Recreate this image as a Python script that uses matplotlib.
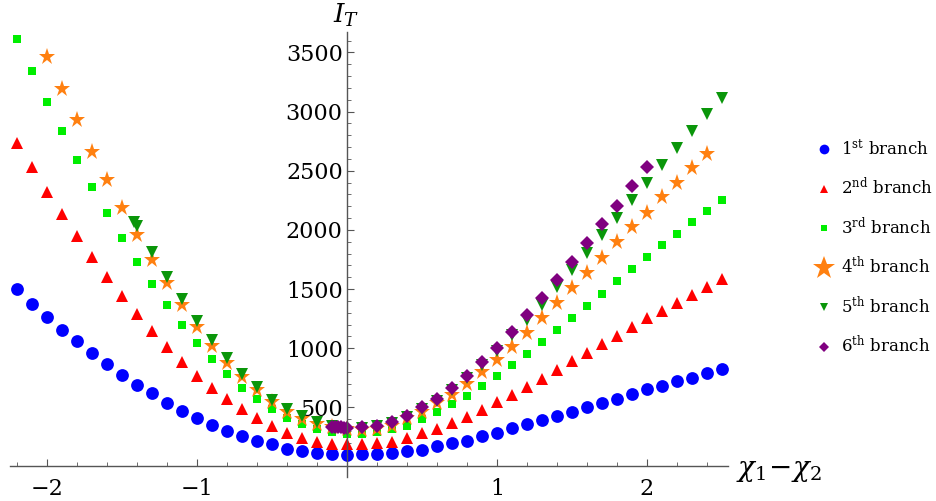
import numpy as np
import matplotlib.pyplot as plt
from matplotlib.lines import Line2D

plt.rcParams['font.family'] = 'DejaVu Serif'
plt.rcParams['mathtext.fontset'] = 'dejavuserif'

# sample grid of chi1 - chi2
x_full = np.round(np.arange(-22, 26) / 10, 1)       # -2.2 ... 2.5
x_star = np.round(np.arange(-20, 25) / 10, 1)       # -2.0 ... 2.4

b1 = [1498, 1374, 1266, 1154, 1058, 962, 866, 776, 689, 619, 539, 472, 413, 351, 300, 261,
      218, 187, 151, 131, 117, 103, 100, 103, 105, 117, 131, 142, 171, 196, 218, 256, 286,
      325, 357, 390, 430, 463, 500, 539, 573, 615, 652, 683, 720, 751, 790, 821]
b2 = [2737, 2534, 2323, 2132, 1948, 1771, 1599, 1441, 1289, 1148, 1008, 883, 765, 664, 568,
      483, 407, 342, 286, 242, 210, 193, 190, 188, 196, 210, 241, 281, 317, 365, 418, 478,
      545, 604, 669, 742, 816, 892, 962, 1033, 1103, 1179, 1252, 1315, 1379, 1447, 1515, 1582]
b3 = [3611, 3343, 3081, 2836, 2591, 2365, 2146, 1929, 1728, 1543, 1365, 1196, 1041, 909, 782,
      666, 571, 485, 407, 359, 315, 289, 275, 272, 289, 317, 342, 401, 458, 527, 596, 680,
      765, 858, 951, 1050, 1154, 1255, 1357, 1460, 1568, 1670, 1771, 1872, 1965, 2067, 2160, 2253]
b4 = [3464, 3188, 2929, 2661, 2422, 2183, 1957, 1743, 1549, 1365, 1182, 1019, 877, 754, 644,
      544, 460, 400, 355, 330, 315, 305, 318, 342, 407, 463, 534, 604, 700, 801, 903, 1013,
      1131, 1253, 1379, 1506, 1633, 1760, 1895, 2022, 2146, 2276, 2399, 2521, 2639]

x5 = [-1.42, -1.4, -1.3, -1.2, -1.1, -1.0, -0.9, -0.8, -0.7, -0.6, -0.5, -0.4, -0.3, -0.2, -0.1,
      0.1, 0.2, 0.3, 0.4, 0.5, 0.6, 0.7, 0.8, 0.9, 1.0, 1.1, 1.2, 1.3, 1.4, 1.5, 1.6, 1.7, 1.8,
      1.9, 2.0, 2.1, 2.2, 2.3, 2.4, 2.5]
b5 = [2069, 2033, 1816, 1599, 1413, 1233, 1069, 915, 782, 668, 565, 483, 427, 379, 345,
      325, 338, 370, 420, 485, 555, 650, 745, 858, 979, 1111, 1238, 1365, 1515, 1661, 1807,
      1957, 2098, 2253, 2394, 2549, 2690, 2836, 2980, 3112]

x6 = [-0.1, -0.08, -0.06, -0.04, -0.02, 0.0, 0.1, 0.2, 0.3, 0.4, 0.5, 0.6, 0.7, 0.8, 0.9,
      1.0, 1.1, 1.2, 1.3, 1.4, 1.5, 1.6, 1.7, 1.8, 1.9, 2.0]
b6 = [336, 334, 332, 330, 329, 328, 331, 345, 380, 430, 500, 573, 666, 768, 886,
      1004, 1139, 1278, 1427, 1577, 1731, 1887, 2047, 2205, 2374, 2534]

labels = [r'1$^{\rm st}$ branch', r'2$^{\rm nd}$ branch', r'3$^{\rm rd}$ branch',
          r'4$^{\rm th}$ branch', r'5$^{\rm th}$ branch', r'6$^{\rm th}$ branch']
colors = ['#0000ff', '#ff0000', '#00ee00', '#ff8010', '#0a960a', '#800080']

fig = plt.figure(figsize=(9.37, 5.01), dpi=100)
ax = fig.add_axes([10 / 937, 24 / 501, 718 / 937, 445 / 501])

ax.plot(x_full, b1, 'o', color=colors[0], ms=9.2, mew=0)
ax.plot(x_full, b2, '^', color=colors[1], ms=8, mew=0)
ax.plot(x_full, b3, 's', color=colors[2], ms=6, mew=0)
ax.plot(x_star, b4, '*', color=colors[3], ms=12.5, mew=0)
ax.plot(x5, b5, 'v', color=colors[4], ms=8, mew=0)
ax.plot(x6, b6, 'D', color=colors[5], ms=6.8, mew=0)

ax.set_xlim(-2.245, 2.54)
ax.set_ylim(-89, 3673)

# axes through the origin, Mathematica style
for s in ['top', 'right']:
    ax.spines[s].set_visible(False)
ax.spines['left'].set_position(('data', 0))
ax.spines['bottom'].set_position(('data', 0))
for s in ['left', 'bottom']:
    ax.spines[s].set_color('#555555')
    ax.spines[s].set_linewidth(1.0)

ax.set_xticks([-2, -1, 1, 2])
ax.set_xticklabels(['\u22122', '\u22121', '1', '2'])
ax.set_xticks(np.round(np.arange(-11, 13) / 5, 1), minor=True)
ax.set_yticks([500, 1000, 1500, 2000, 2500, 3000, 3500])
ax.set_yticks(np.arange(100, 3700, 100), minor=True)
ax.tick_params(axis='both', which='major', direction='in', length=5, width=0.8,
               color='#555555', labelsize=16)
ax.tick_params(axis='both', which='minor', direction='in', length=3, width=0.6,
               color='#555555')
ax.tick_params(axis='x', which='major', pad=8)
ax.tick_params(axis='y', which='major', pad=3)

fig.text(346 / 937, 1 - 15 / 501, r'$I_T$', fontsize=19, ha='center', va='center')
fig.text(736 / 937, 1 - 470 / 501, r'$\chi_1\!-\!\chi_2$', fontsize=20, ha='left', va='center')

handles = [
    Line2D([], [], ls='', marker='o', color=colors[0], ms=7, mew=0),
    Line2D([], [], ls='', marker='^', color=colors[1], ms=6, mew=0),
    Line2D([], [], ls='', marker='s', color=colors[2], ms=5, mew=0),
    Line2D([], [], ls='', marker='*', color=colors[3], ms=17, mew=0),
    Line2D([], [], ls='', marker='v', color=colors[4], ms=6, mew=0),
    Line2D([], [], ls='', marker='D', color=colors[5], ms=5, mew=0),
]
fig.legend(handles, labels, loc='upper left', bbox_to_anchor=(814 / 937, 1 - 139 / 501),
           frameon=False, fontsize=12, labelspacing=1.1, handlelength=1.2,
           handletextpad=0.4, borderpad=0, borderaxespad=0)

fig.savefig('out.png', dpi=100)
